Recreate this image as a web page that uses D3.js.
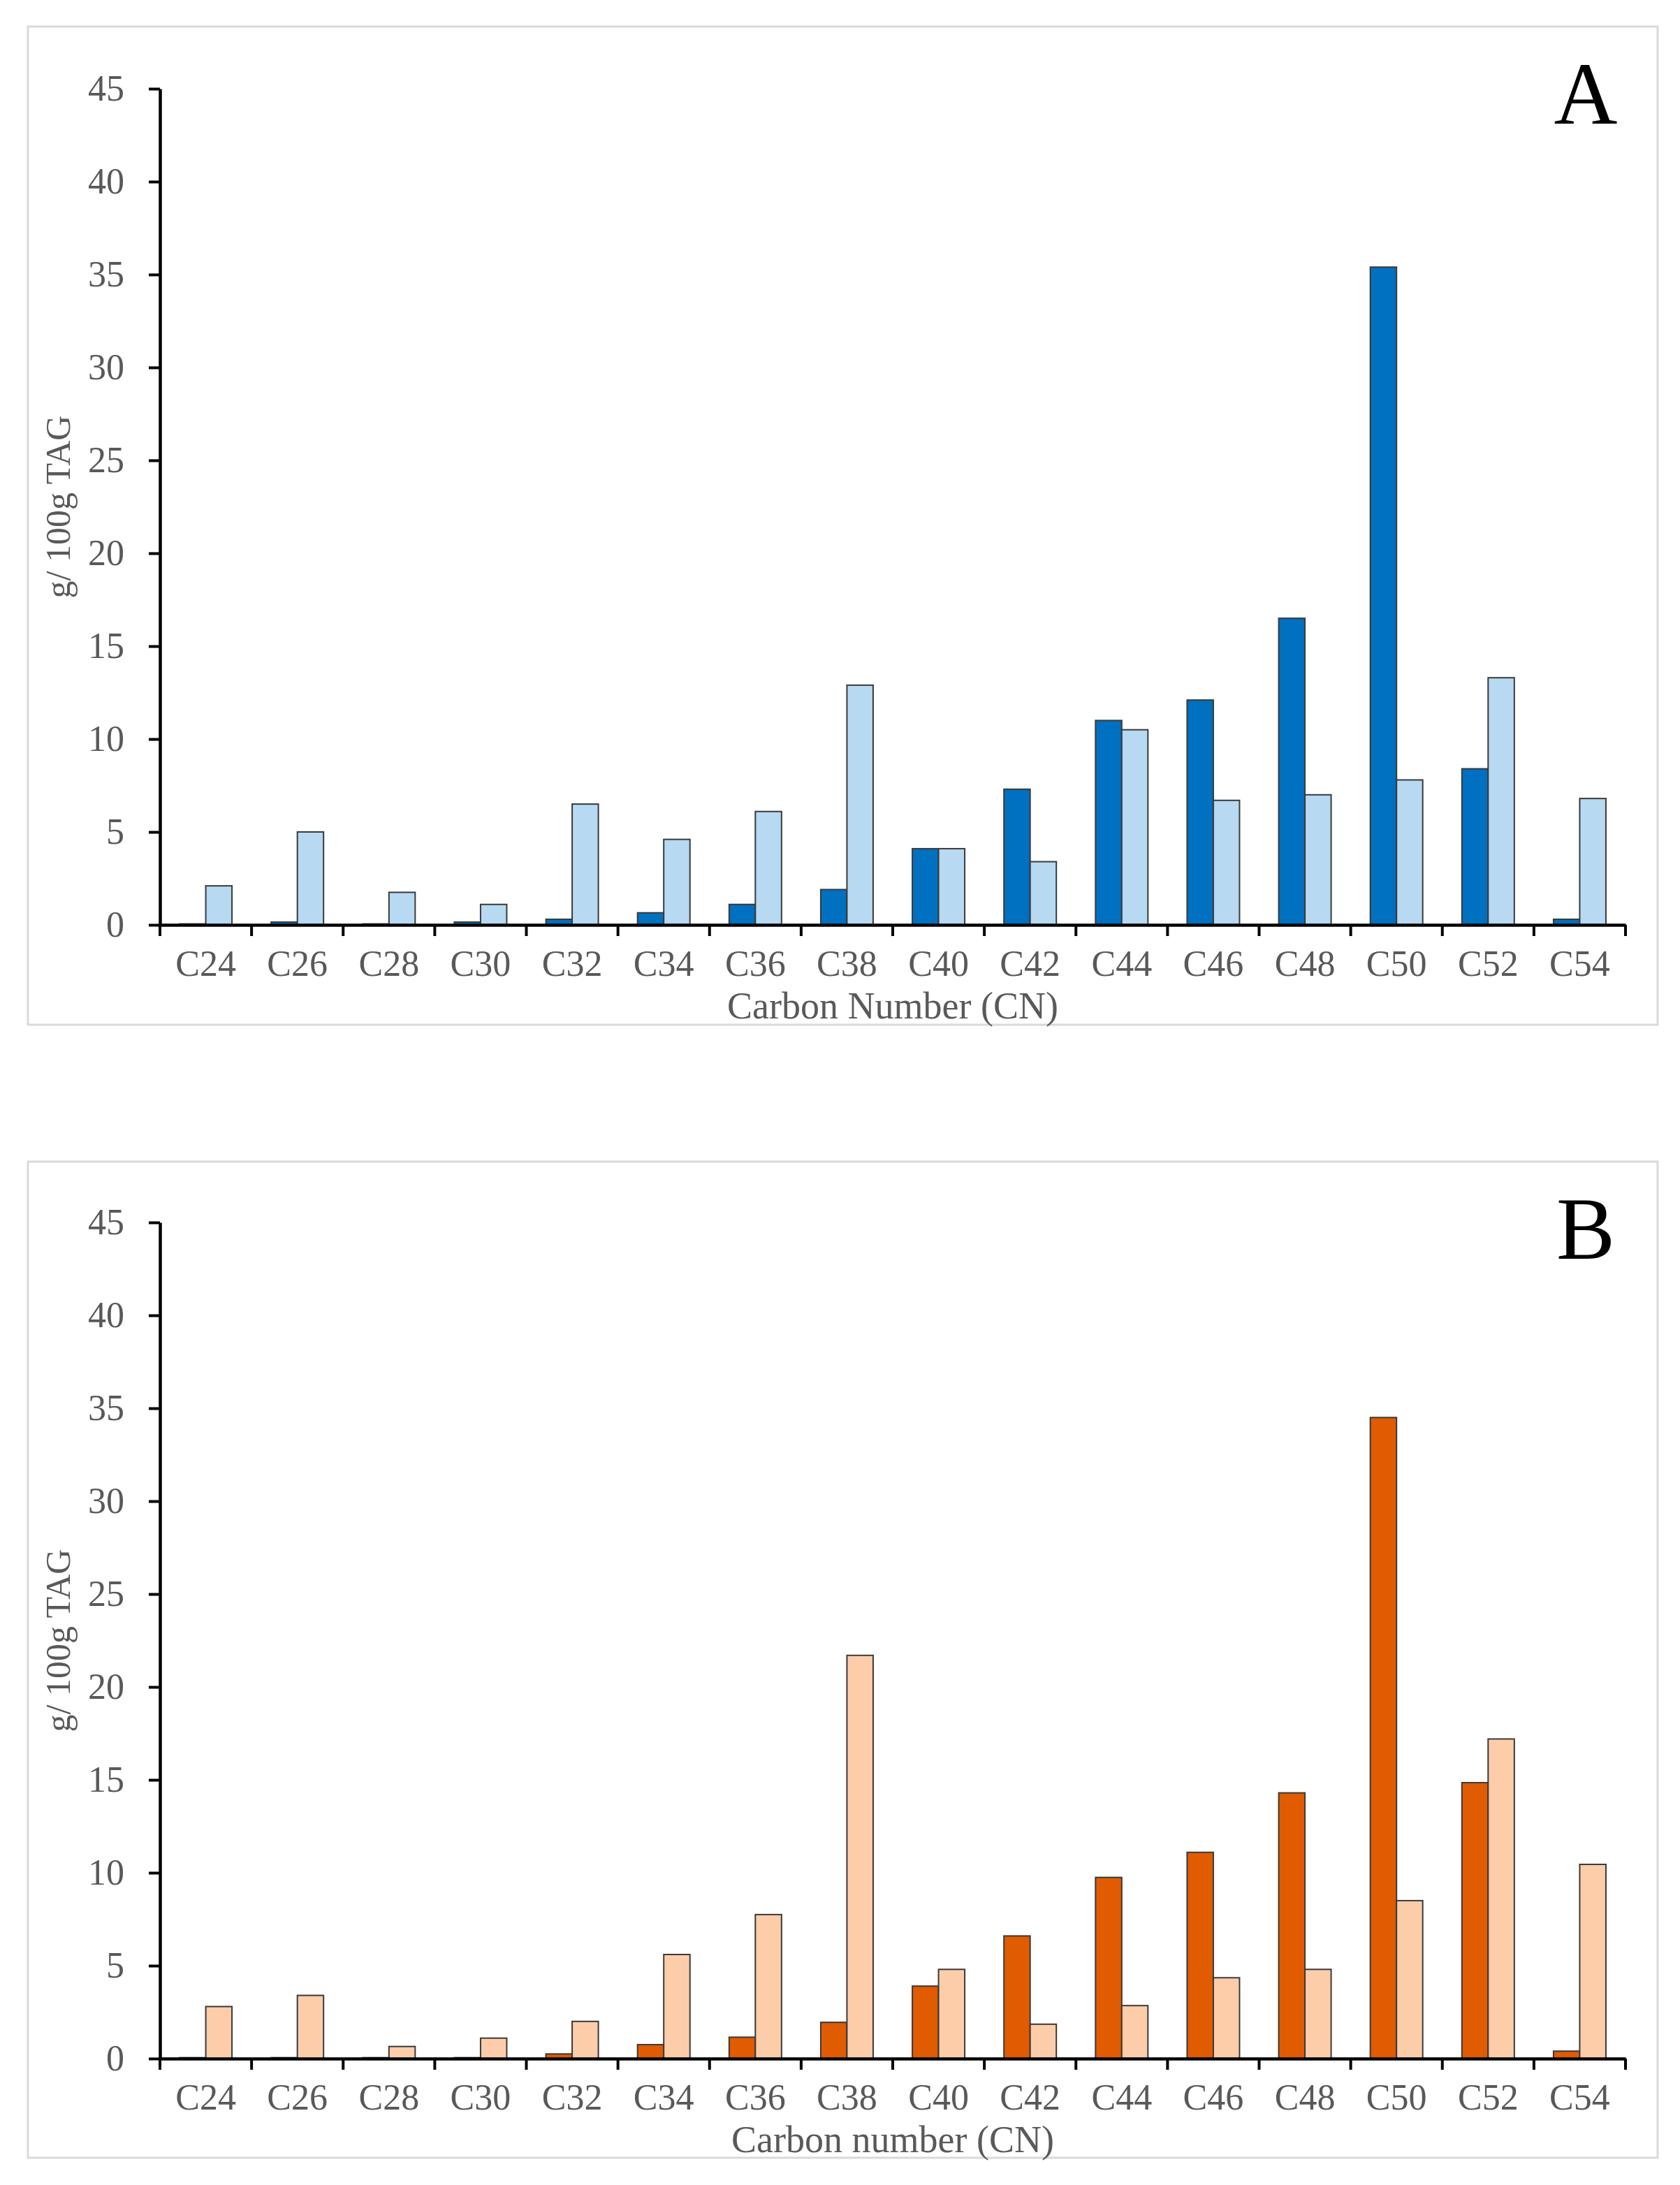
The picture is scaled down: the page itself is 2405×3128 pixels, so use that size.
<!DOCTYPE html>
<html>
<head>
<meta charset="utf-8">
<script src="https://cdn.jsdelivr.net/npm/d3@7"></script>
<style>
  html, body { margin: 0; padding: 0; background: #ffffff; }
  svg { display: block; }
</style>
</head>
<body>
<svg id="chart" width="2405" height="3128"></svg>
<script>
// ---------- data ----------
const categories = ["C24","C26","C28","C30","C32","C34","C36","C38","C40","C42","C44","C46","C48","C50","C52","C54"];
const yTicks = [0,5,10,15,20,25,30,35,40,45];

const panelA_dark  = [0.05,0.15,0.05,0.15,0.3,0.65,1.1,1.9,4.1,7.3,11.0,12.1,16.5,35.4,8.4,0.3];
const panelA_light = [2.1,5.0,1.75,1.1,6.5,4.6,6.1,12.9,4.1,3.4,10.5,6.7,7.0,7.8,13.3,6.8];

const panelB_dark  = [0.05,0.05,0.05,0.05,0.25,0.75,1.15,1.95,3.9,6.6,9.75,11.1,14.3,34.5,14.85,0.4];
const panelB_light = [2.8,3.4,0.65,1.1,2.0,5.6,7.75,21.7,4.8,1.85,2.85,4.35,4.8,8.5,17.2,10.45];

const yLabel = "g/ 100g TAG";
const xTitleA = "Carbon Number (CN)";
const xTitleB = "Carbon number (CN)";

// ---------- drawing ----------
const svg = d3.select("#chart");
const FONT = "'Liberation Serif', 'Times New Roman', serif";
const GREY = "#595959";

function drawPanel(opt) {
  const g = svg.append("g");
  // frame
  g.append("rect")
    .attr("x", opt.frame[0]).attr("y", opt.frame[1])
    .attr("width", opt.frame[2]).attr("height", opt.frame[3])
    .attr("fill", "#ffffff").attr("stroke", "#d9d9d9").attr("stroke-width", 3);

  const x0 = 229, x1 = 2327;
  const yTop = opt.yTop, yZero = opt.yTop + 1197;

  const x = d3.scaleBand().domain(categories).range([x0, x1]).padding(0);
  const xs = d3.scaleBand().domain(["dark","light"]).range([0, x.bandwidth()])
    .paddingInner(0).paddingOuter(0.748);
  const y = d3.scaleLinear().domain([0, 45]).range([yZero, yTop]);

  const rows = categories.map((c, i) => ({c, dark: opt.dark[i], light: opt.light[i]}));

  // bars
  const grp = g.append("g").selectAll("g").data(rows).join("g")
    .attr("transform", d => `translate(${x(d.c)},0)`);
  grp.selectAll("rect")
    .data(d => [{k: "dark", v: d.dark}, {k: "light", v: d.light}])
    .join("rect")
    .attr("x", d => xs(d.k))
    .attr("width", xs.bandwidth())
    .attr("y", d => y(d.v))
    .attr("height", d => yZero - y(d.v))
    .attr("fill", d => d.k === "dark" ? opt.colors[0] : opt.colors[1])
    .attr("stroke", "#3a3a3a").attr("stroke-width", 2);

  // y axis
  const ya = g.append("g").attr("transform", `translate(${x0},0)`)
    .call(d3.axisLeft(y).tickValues(yTicks).tickSize(16).tickSizeOuter(0).tickPadding(35));
  ya.select(".domain").attr("stroke", "#000").attr("stroke-width", 4.5);
  ya.selectAll(".tick line").attr("stroke", "#000").attr("stroke-width", 4);
  ya.selectAll(".tick text")
    .attr("font-family", FONT).attr("font-size", 52).attr("fill", GREY);

  // x axis (labels at band centres, ticks at band boundaries)
  const xa = g.append("g").attr("transform", `translate(0,${yZero})`)
    .call(d3.axisBottom(x).tickSize(0).tickSizeOuter(0).tickPadding(36));
  xa.select(".domain").attr("stroke", "#000").attr("stroke-width", 4.5);
  xa.selectAll(".tick text")
    .attr("font-family", FONT).attr("font-size", 52).attr("fill", GREY);
  const bounds = categories.map(c => x(c)).concat([x.range()[1]]);
  xa.append("g").selectAll("line").data(bounds).join("line")
    .attr("x1", d => d).attr("x2", d => d)
    .attr("y1", 0).attr("y2", 16)
    .attr("stroke", "#000").attr("stroke-width", 4);

  // axis titles
  g.append("text")
    .attr("x", (x0 + x1) / 2).attr("y", yZero + 134)
    .attr("text-anchor", "middle")
    .attr("font-family", FONT).attr("font-size", 54).attr("fill", GREY)
    .text(opt.xTitle);
  g.append("text")
    .attr("transform", `translate(100,${(yTop + yZero) / 2}) rotate(-90)`)
    .attr("text-anchor", "middle")
    .attr("font-family", FONT).attr("font-size", 50).attr("fill", GREY)
    .text(yLabel);

  // panel letter
  g.append("text")
    .attr("x", 2270).attr("y", opt.frame[1] + 139)
    .attr("text-anchor", "middle")
    .attr("font-family", FONT).attr("font-size", 126).attr("fill", "#000")
    .text(opt.letter);
}

drawPanel({
  frame: [40, 38, 2333, 1429], yTop: 127,
  dark: panelA_dark, light: panelA_light,
  colors: ["#0070C0", "#B7D9F2"], xTitle: xTitleA, letter: "A"
});
drawPanel({
  frame: [40, 1663, 2333, 1426], yTop: 1750,
  dark: panelB_dark, light: panelB_light,
  colors: ["#E15B00", "#FDCDAA"], xTitle: xTitleB, letter: "B"
});
</script>
</body>
</html>
